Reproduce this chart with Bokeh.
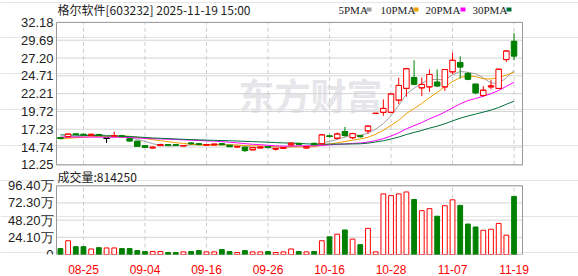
import numpy as np
from bokeh.plotting import figure
from bokeh.models import ColumnDataSource, FixedTicker, Range1d
from bokeh.core.properties import value
from bokeh.embed import file_html
from bokeh.resources import INLINE

# ---------------- data ----------------
dates = ["08-20", "08-21", "08-22", "08-25", "08-26", "08-27", "08-28", "08-29",
         "09-01", "09-02", "09-03", "09-04", "09-05", "09-08", "09-09", "09-10",
         "09-11", "09-12", "09-15", "09-16", "09-17", "09-18", "09-19", "09-22",
         "09-23", "09-24", "09-25", "09-26", "09-29", "09-30", "10-09", "10-10",
         "10-13", "10-14", "10-15", "10-16", "10-17", "10-20", "10-21", "10-22",
         "10-23", "10-24", "10-27", "10-28", "10-29", "10-30", "10-31", "11-03",
         "11-04", "11-05", "11-06", "11-07", "11-10", "11-11", "11-12", "11-13",
         "11-14", "11-17", "11-18", "11-19"]

opens = [16.05, 16.20, 16.58, 16.52, 16.42, 16.50, 15.95, 16.30, 16.30, 15.90,
         15.55, 14.95, 14.62, 14.95, 15.08, 15.05, 14.90, 15.30, 15.20, 15.02,
         15.05, 15.20, 14.98, 14.75, 14.70, 14.35, 14.62, 14.78, 14.45, 14.55,
         15.05, 15.25, 14.62, 15.25, 15.20, 16.30, 15.98, 16.90, 16.05, 16.32,
         17.00, 19.45, 19.60, 19.60, 21.30, 22.95, 24.47, 23.02, 23.16, 23.82,
         23.16, 25.26, 26.56, 25.03, 23.54, 21.96, 23.16, 22.94, 26.98, 29.53]
highs = [16.12, 16.65, 16.62, 16.60, 16.62, 16.58, 15.95, 16.90, 16.40, 16.00,
         15.60, 15.00, 14.78, 15.20, 15.15, 15.12, 15.00, 15.40, 15.25, 15.15,
         15.20, 15.28, 15.05, 14.85, 14.75, 14.72, 14.80, 14.85, 14.60, 14.70,
         15.35, 15.30, 14.85, 15.35, 16.55, 16.50, 16.78, 17.55, 16.75, 16.42,
         17.68, 19.45, 21.40, 22.17, 24.45, 25.70, 26.88, 24.47, 25.59, 25.59,
         25.59, 27.95, 27.44, 25.25, 23.54, 23.26, 24.10, 25.63, 28.19, 30.69]
lows = [15.80, 16.10, 16.45, 16.40, 16.38, 16.35, 15.30, 16.25, 16.15, 15.50,
        14.85, 14.60, 14.55, 14.90, 14.95, 14.95, 14.85, 15.10, 15.00, 14.98,
        15.00, 15.00, 14.75, 14.70, 14.05, 14.30, 14.58, 14.65, 14.25, 14.50,
        15.00, 15.05, 14.50, 15.00, 15.15, 16.05, 15.80, 16.20, 15.85, 16.05,
        16.60, 19.45, 19.12, 19.50, 20.75, 21.78, 23.40, 21.87, 22.47, 23.20,
        22.60, 24.93, 24.33, 24.10, 22.15, 21.77, 22.80, 22.90, 26.65, 26.88]
closes = [15.95, 16.55, 16.50, 16.45, 16.52, 16.40, 15.95, 16.35, 16.20, 15.60,
          14.85, 14.70, 14.72, 15.10, 15.02, 15.00, 14.95, 15.22, 15.10, 15.10,
          15.15, 15.08, 14.80, 14.82, 14.25, 14.65, 14.75, 14.70, 14.55, 14.65,
          15.28, 15.12, 14.78, 15.08, 16.45, 16.22, 16.57, 16.35, 16.62, 16.20,
          17.68, 19.45, 20.15, 22.17, 23.36, 25.70, 23.54, 23.50, 24.89, 23.30,
          25.59, 26.88, 25.95, 24.24, 22.33, 22.70, 23.30, 25.63, 28.18, 27.48]
# closes of the 29 sessions before the window (needed for the moving averages)
hist_closes = [17.3, 17.2, 17.1, 17.0, 17.1, 17.0, 16.9, 17.0, 17.0, 16.9,
               16.7, 16.6, 16.5, 16.4, 16.5, 16.4, 16.3, 16.3, 16.2, 16.2,
               15.7, 15.8, 15.7, 15.8, 15.9, 15.9, 16.0, 16.1, 16.0]
volumes = [83000, 193000, 110000, 110000, 78000, 96000, 92000, 92000, 83000, 83000,
           55000, 41000, 41000, 41000, 28000, 28000, 37000, 41000, 55000, 37000,
           37000, 69000, 41000, 28000, 55000, 37000, 37000, 41000, 28000, 37000,
           78000, 41000, 37000, 41000, 193000, 248000, 285000, 344000, 216000, 138000,
           367000, 37000, 850000, 826000, 850000, 877000, 771000, 615000, 643000, 537000,
           684000, 767000, 689000, 427000, 386000, 340000, 354000, 436000, 271000, 814250]

price_ticks = [12.25, 14.74, 17.23, 19.72, 22.21, 24.71, 27.20, 29.69, 32.18]
price_tick_labels = ["12.25", "14.74", "17.23", "19.72", "22.21", "24.71", "27.20", "29.69", "32.18"]
vol_ticks = [0, 241000, 482000, 723000, 964000]
vol_tick_labels = ["0", "24.10万", "48.20万", "72.30万", "96.40万"]
tick_dates = ["08-25", "09-04", "09-16", "09-26", "10-16", "10-28", "11-07", "11-19"]

ma_periods = [5, 10, 20, 30]
ma_names = ["5PMA", "10PMA", "20PMA", "30PMA"]
ma_colors = ["#a0a0a0", "#f0a000", "#ff00ff", "#006f3c"]

title_text = "格尔软件[603232] 2025-11-19 15:00"
vol_title = "成交量:814250"
watermark = "东方财富"

# ---------------- styling / layout constants (page pixels) ----------------
RED = "#ff0000"
GREEN = "#008000"
BORDER = "#9a9a9a"
GRID = "#d4d4d4"
W, H = 578, 276
FL, FR, FT, FB = 0, 578, 0, 255       # plotting frame (covers the full width)
BL, BR = 56, 522                      # panel boxes left/right
P1T, P1B = 22, 165                    # price panel top/bottom
P2T, P2B = 186, 255                   # volume panel top/bottom
X0, X1 = -0.51, 60.1                  # data x at BL / BR
YLAB_X = 53                           # right edge of the y tick labels
AXIS_FONT = "Liberation Sans"
CJK_FONT = "Noto Sans CJK SC"

upp = (X1 - X0) / (BR - BL)
x_lo, x_hi = X0 - (BL - FL) * upp, X1 + (FR - BR) * upp
p_lo, p_hi = price_ticks[0], price_ticks[-1]
K1 = (P1B - P1T) / (p_hi - p_lo)
y_top = p_hi + (P1T - FT) / K1
y_bot = p_lo - (FB - P1B) / K1
KV = (P2B - P2T) / vol_ticks[-1]
v_top = vol_ticks[-1] + (P2T - FT) / KV
v_bot = -(FB - P2B) / KV

n = len(dates)
xs = list(range(n))
tick_idx = [dates.index(d) for d in tick_dates]

allc = np.array(hist_closes + closes)
off = len(hist_closes)
mas = {k: [float(allc[off + i - k + 1: off + i + 1].mean()) for i in range(n)] for k in ma_periods}

c_col, c_fill, v_col, v_fill = [], [], [], []
prev = hist_closes[-1]
for o, c in zip(opens, closes):
    if c > o:
        col, fill = RED, "white"
    elif c < o:
        col, fill = GREEN, GREEN
    else:
        col = RED if c > prev else "#000000"
        fill = col
    c_col.append(col)
    c_fill.append(fill)
    if col == GREEN:
        v_col.append(GREEN); v_fill.append(GREEN)
    else:
        v_col.append(RED); v_fill.append("white")
    prev = c

BW = 0.72
src = ColumnDataSource(dict(
    x=xs, open=opens, high=highs, low=lows, close=closes,
    top=[max(o, c) for o, c in zip(opens, closes)],
    bottom=[min(o, c) for o, c in zip(opens, closes)],
    xl=[i - BW / 2 for i in xs], xr=[i + BW / 2 for i in xs],
    color=c_col, fill=c_fill, vol=volumes, vcolor=v_col, vfill=v_fill,
))

p = figure(width=W, height=H, x_range=Range1d(x_lo, x_hi), y_range=Range1d(y_bot, y_top),
           output_backend="svg", toolbar_location=None, y_axis_location=None,
           min_border_left=FL, min_border_right=W - FR,
           min_border_top=FT, min_border_bottom=H - FB)
p.extra_y_ranges = {"vol": Range1d(v_bot, v_top), "px": Range1d(FB, FT)}
p.extra_x_ranges = {"px": Range1d(FL, FR)}
p.outline_line_color = None
p.background_fill_color = "white"
p.border_fill_color = "white"

p.xaxis.ticker = FixedTicker(ticks=tick_idx)
p.xaxis.major_label_overrides = {i: d for i, d in zip(tick_idx, tick_dates)}
p.xaxis.axis_line_color = None
p.xaxis.major_tick_line_color = None
p.xaxis.minor_tick_line_color = None
p.xaxis.major_label_standoff = 4
p.xaxis.major_label_text_font = AXIS_FONT
p.xaxis.major_label_text_font_size = "12px"
p.xaxis.major_label_text_color = RED
p.xgrid.visible = False

# watermark (behind everything)
p.text(x=[310], y=[94], text=[watermark], x_range_name="px", y_range_name="px",
       text_font=value(CJK_FONT), text_font_size="36px", text_font_style="bold",
       text_color="#e6e6ea", text_align="center", text_baseline="middle")

# horizontal grid lines at the value ticks of each panel
p.segment(x0=[X0] * len(price_ticks), x1=[X1] * len(price_ticks), y0=price_ticks, y1=price_ticks,
          line_color=GRID, line_width=1)
p.segment(x0=[X0] * len(vol_ticks), x1=[X1] * len(vol_ticks), y0=vol_ticks, y1=vol_ticks,
          y_range_name="vol", line_color=GRID, line_width=1)

# vertical dashed grid inside each panel
p.segment(x0=tick_idx, x1=tick_idx, y0=[p_lo] * len(tick_idx), y1=[p_hi] * len(tick_idx),
          line_color="#cccccc", line_dash="4 3", line_width=1)
p.segment(x0=tick_idx, x1=tick_idx, y0=[0] * len(tick_idx), y1=[vol_ticks[-1]] * len(tick_idx),
          y_range_name="vol", line_color="#cccccc", line_dash="4 3", line_width=1)

# panel boxes
p.quad(left=[X0], right=[X1], bottom=[p_lo], top=[p_hi],
       fill_color=None, line_color=BORDER)
p.quad(left=[X0], right=[X1], bottom=[0], top=[vol_ticks[-1]], y_range_name="vol",
       fill_color=None, line_color=BORDER)

# y tick labels of both panels (placed through each panel's value scale)
p.text(x=[YLAB_X] * len(price_ticks), y=price_ticks, text=price_tick_labels, x_range_name="px",
       text_font=value(AXIS_FONT), text_font_size="13px", text_color="#222",
       text_align="right", text_baseline="middle")
p.text(x=[YLAB_X] * len(vol_ticks), y=vol_ticks, text=vol_tick_labels, x_range_name="px",
       y_range_name="vol", text_font=value(AXIS_FONT), text_font_size="13px", text_color="#222",
       text_align="right", text_baseline="middle")

# moving averages
for k, col in zip(ma_periods, ma_colors):
    p.line(xs, mas[k], line_color=col, line_width=1)

# candlesticks
p.segment(x0="x", y0="high", x1="x", y1="low", line_color="color", line_width=1, source=src)
p.vbar(x="x", width=BW, top="top", bottom="bottom", fill_color="fill",
       line_color="color", line_width=1, source=src)
p.segment(x0="xl", y0="open", x1="xr", y1="open", line_color="color", line_width=1, source=src)
p.segment(x0="xl", y0="close", x1="xr", y1="close", line_color="color", line_width=1, source=src)

# volume
p.vbar(x="x", width=0.62, top="vol", bottom=0, y_range_name="vol", fill_color="vfill",
       line_color="vcolor", line_width=1, source=src)

# header: title + legend
p.text(x=[57], y=[9.5], text=[title_text], x_range_name="px", y_range_name="px",
       text_font=value(CJK_FONT), text_font_size="12px", text_color="#222",
       text_align="left", text_baseline="middle")
leg_text_px = [338, 380, 425, 472]
leg_box_px = [368.5, 415.5, 462.5, 508.5]
p.text(x=leg_text_px, y=[9.5] * 4, text=ma_names, x_range_name="px", y_range_name="px",
       text_font=value("Liberation Serif"), text_font_size="11px", text_color="#222",
       text_align="left", text_baseline="middle")
p.rect(x=leg_box_px, y=[9] * 4, width=5, height=4, x_range_name="px", y_range_name="px",
       fill_color=ma_colors, line_color=None)

# volume title
p.text(x=[57], y=[177], text=[vol_title], x_range_name="px", y_range_name="px",
       text_font=value(CJK_FONT), text_font_size="12px", text_color="#222",
       text_align="left", text_baseline="middle")

open("out.html", "w").write(file_html(p, INLINE))
